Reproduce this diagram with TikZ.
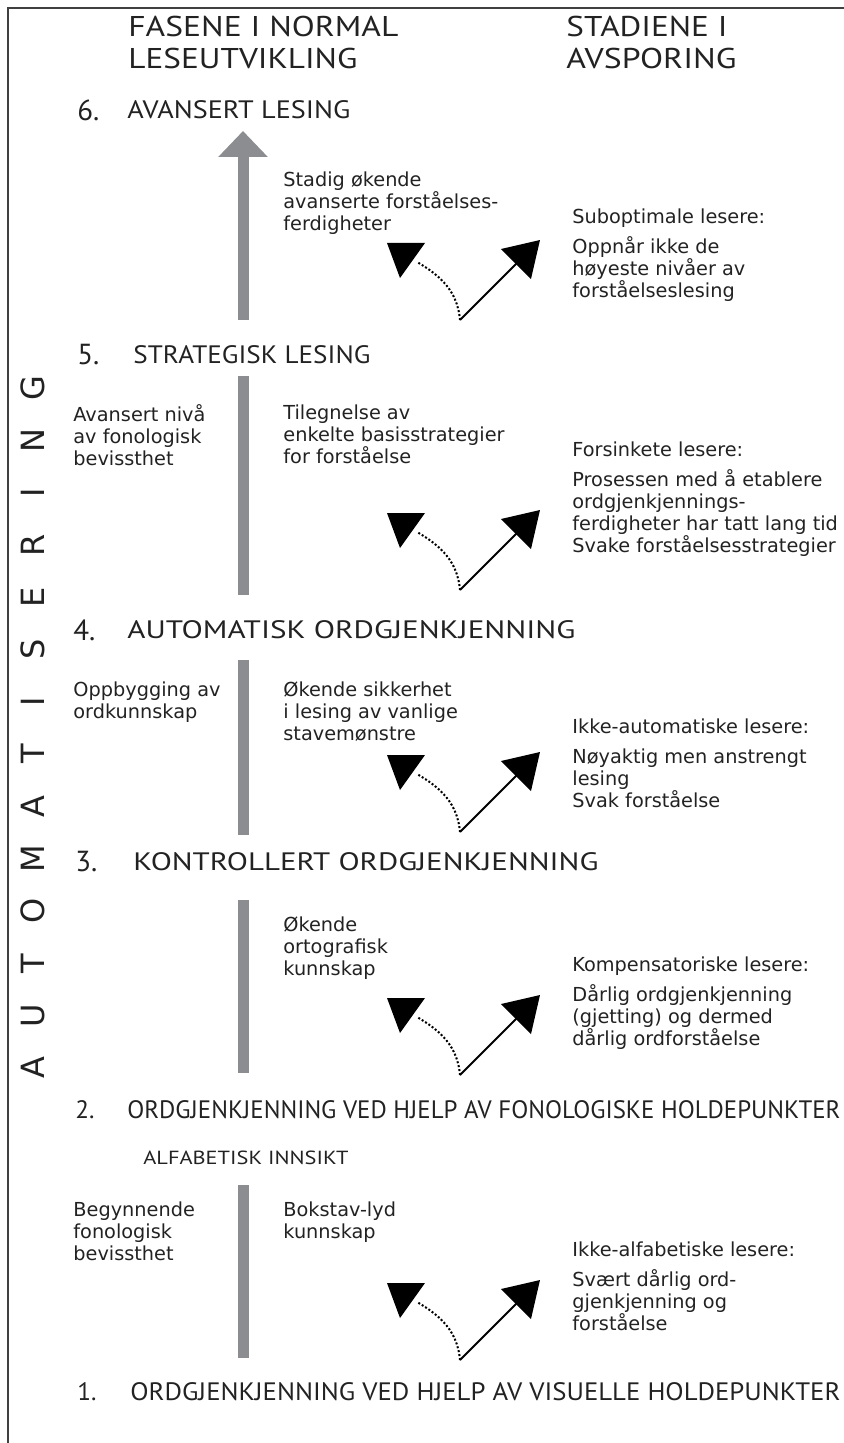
\documentclass[tikz,border=0pt]{standalone}
\usepackage{fontspec}
\setmainfont{DejaVu Sans}
\newfontfamily\headfont{PT Sans}
\usetikzlibrary{arrows.meta}
\definecolor{inkgray}{HTML}{222222}
\definecolor{bargray}{HTML}{8C8D90}
\newcommand\fitw[2]{\resizebox{#1}{\height}{#2}}
\tikzset{colhead/.style={anchor=north west, inner sep=0pt, align=left, text=inkgray,
    font=\headfont\fontsize{14.3}{16}\selectfont}}
\tikzset{stage/.style={anchor=west, inner sep=0pt, text=inkgray,
    font=\headfont\fontsize{12.6}{14}\selectfont}}
\tikzset{note/.style={anchor=north west, inner sep=0pt, align=left, text=inkgray,
    font=\fontsize{9.65}{11.1}\selectfont}}
\tikzset{vletter/.style={inner sep=0pt, rotate=90, text=inkgray,
    font=\fontsize{16}{16}\selectfont}}
\tikzset{bar/.style={line width=5.5pt, draw=bargray}}
\tikzset{down arrow/.style={line width=1pt, draw=black, -{Triangle[length=17pt,width=21pt]}}}
\tikzset{back arrow/.style={line width=1pt, draw=black, densely dotted}}

\begin{document}
\begin{tikzpicture}[x=0.5pt, y=-0.5pt]
  \useasboundingbox (0,0) rectangle (844,1443);
  \draw[line width=1.1pt, black!75] (844,8) -- (8,8) -- (8,1443);

  % column heads
  \node[colhead] (fase) at (128,16) {\fitw{135pt}{FASENE I NORMAL}\\\fitw{114.5pt}{LESEUTVIKLING}};
  \node[colhead] (stadie) at (566,16) {\fitw{80.5pt}{STADIENE I}\\\fitw{85pt}{AVSPORING}};

  % the six phases
  \node[stage, font=\headfont\fontsize{14.5}{16}\selectfont] (n6) at (77,110) {6.};
  \node[stage] (s6) at (127,110) {\fitw{111.5pt}{AVANSERT LESING}};
  \node[stage, font=\headfont\fontsize{14.5}{16}\selectfont] (n5) at (77,355) {5.};
  \node[stage] (s5) at (133,355) {\fitw{118.5pt}{STRATEGISK LESING}};
  \node[stage, font=\headfont\fontsize{14.5}{16}\selectfont] (n4) at (73,630) {4.};
  \node[stage] (s4) at (127,630) {\fitw{224pt}{AUTOMATISK ORDGJENKJENNING}};
  \node[stage, font=\headfont\fontsize{14.5}{16}\selectfont] (n3) at (75,862) {3.};
  \node[stage] (s3) at (133,862) {\fitw{232.5pt}{KONTROLLERT ORDGJENKJENNING}};
  \node[stage] (n2) at (75,1110) {2.};
  \node[stage] (s2) at (127,1110) {\fitw{356.5pt}{ORDGJENKJENNING VED HJELP AV FONOLOGISKE HOLDEPUNKTER}};
  \node[stage, font=\headfont\fontsize{9.5}{10}\selectfont] (alfa) at (143,1158) {\fitw{102.5pt}{ALFABETISK INNSIKT}};
  \node[stage] (n1) at (77,1392) {1.};
  \node[stage] (s1) at (130,1392) {\fitw{355pt}{ORDGJENKJENNING VED HJELP AV VISUELLE HOLDEPUNKTER}};

  % grey bars
  \draw[bar, -{Triangle[length=13pt,width=24pt]}] (243,320) -- (243,131);
  \draw[bar] (243,376) -- (243,595);
  \draw[bar] (243,660) -- (243,835);
  \draw[bar] (243,900) -- (243,1073);
  \draw[bar] (243,1185) -- (243,1358);

  % left column
  \node[note] (l5) at (73,404) {Avansert nivå\\av fonologisk\\bevissthet};
  \node[note] (l4) at (73,681) {Oppbygging av\\ordkunnskap};
  \node[note] (l2) at (73,1201) {Begynnende\\fonologisk\\bevissthet};

  % middle column
  \node[note] (m6) at (283,171) {Stadig økende\\avanserte forståelses-\\ferdigheter};
  \node[note] (m5) at (283,404) {Tilegnelse av\\enkelte basisstrategier\\for forståelse};
  \node[note] (m4) at (283,681) {Økende sikkerhet\\i lesing av vanlige\\stavemønstre};
  \node[note] (m3) at (283,916) {Økende\\ortografisk\\kunnskap};
  \node[note] (m2) at (283,1201) {Bokstav-lyd\\kunnskap};

  % right column
  \node[note] (r6) at (572,208) {Suboptimale lesere:\\[4pt]Oppnår ikke de\\høyeste nivåer av\\forståelseslesing};
  \node[note] (r5) at (572,441) {Forsinkete lesere:\\[4pt]Prosessen med å etablere\\ordgjenkjennings-\\ferdigheter har tatt lang tid\\Svake forståelsesstrategier};
  \node[note] (r4) at (572,718) {Ikke-automatiske lesere:\\[4pt]Nøyaktig men anstrengt\\lesing\\Svak forståelse};
  \node[note] (r3) at (572,956) {Kompensatoriske lesere:\\[4pt]Dårlig ordgjenkjenning\\(gjetting) og dermed\\dårlig ordforståelse};
  \node[note] (r2) at (572,1241) {Ikke-alfabetiske lesere:\\[4pt]Svært dårlig ord-\\gjenkjenning og\\forståelse};

  % forks
  \foreach \y [count=\i] in {320,590,832,1075,1360} {
    \coordinate (o\i) at (460,\y);
    \coordinate (up\i) at (540,\y-80);
    \coordinate (back\i) at (417,\y-58);
    \draw[down arrow] (o\i) -- (up\i);
    \draw[back arrow] (o\i) to[out=95, in=-30] (back\i);
    \fill (387,\y-77) -- (425,\y-77) -- (400,\y-42) -- cycle;
  }

  % AUTOMATISERING
  \foreach \l [count=\i] in {A,U,T,O,M,A,T,I,S,E,R,I,N,G}
    \node[vletter] (v\i) at (33,1068-52.3*\i+52.3) {\l};
\end{tikzpicture}
\end{document}
